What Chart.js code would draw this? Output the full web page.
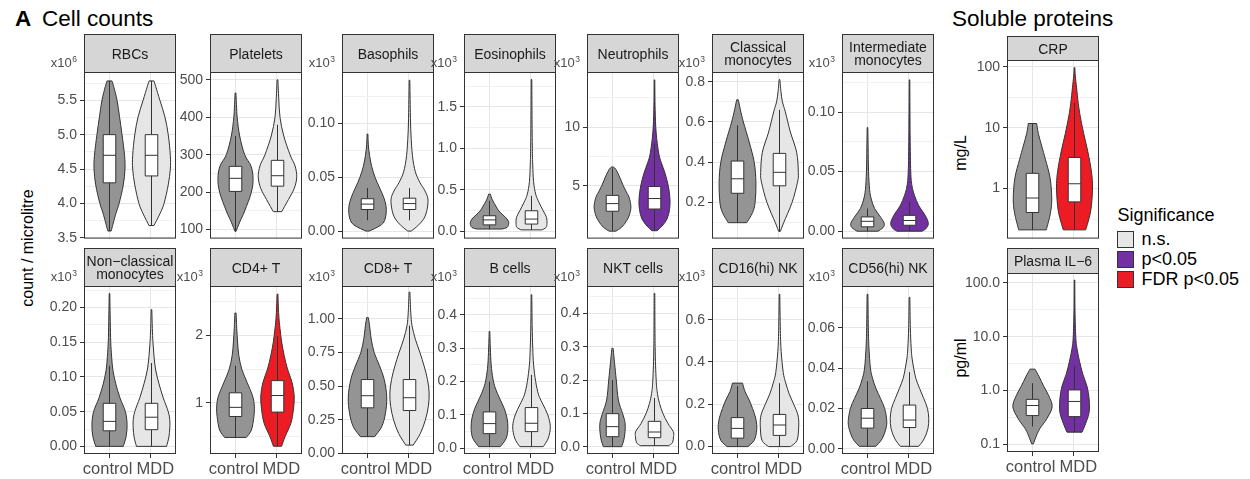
<!DOCTYPE html>
<html>
<head>
<meta charset="utf-8">
<script src="https://cdn.jsdelivr.net/npm/chart.js@4.4.1/dist/chart.umd.min.js"></script>
<style>
  html, body { margin: 0; padding: 0; background: #fff; }
  #fig { position: relative; width: 1250px; height: 479px; overflow: hidden; background: #fff;
         font-family: "Liberation Sans", Arial, Helvetica, sans-serif; }
  #fig canvas { position: absolute; }
  .txt { position: absolute; white-space: nowrap; line-height: 1; color: #000; }
  .vert { transform: translate(-50%, -50%) rotate(-90deg); }
  .key { position: absolute; width: 17px; height: 17px; box-sizing: border-box; border: 1px solid #333; }
</style>
</head>
<body>
<div id="fig">
  <div class="txt" style="left:15px;top:8px;font-size:22.5px;font-weight:bold;">A</div>
  <div class="txt" style="left:42px;top:8px;font-size:22.5px;">Cell counts</div>
  <div class="txt" style="left:952px;top:8px;font-size:22.5px;">Soluble proteins</div>
  <div class="txt vert" style="left:28px;top:248px;font-size:16px;">count / microlitre</div>
  <div class="txt vert" style="left:960.5px;top:153px;font-size:16px;">mg/L</div>
  <div class="txt vert" style="left:961px;top:357.5px;font-size:16px;">pg/ml</div>
  <div id="legend"></div>
</div>
<script>
// ---- data -------------------------------------------------------------
const categories = ['control', 'MDD'];

const panelTitles = [
  'RBCs', 'Platelets', 'Basophils', 'Eosinophils', 'Neutrophils',
  'Classical\nmonocytes', 'Intermediate\nmonocytes',
  'Non\u2212classical\nmonocytes', 'CD4+ T', 'CD8+ T', 'B cells', 'NKT cells',
  'CD16(hi) NK', 'CD56(hi) NK',
  'CRP', 'Plasma IL\u22126'
];

// power of ten printed above each y axis ('' = none)
const unitExponents = ['6', '', '3', '3', '3', '3', '3', '3', '3', '3', '3', '3', '3', '3', '', ''];

const significanceLevels = ['n.s.', 'p<0.05', 'FDR p<0.05'];
const mddSignificance = [
  'n.s.', 'n.s.', 'n.s.', 'n.s.', 'p<0.05', 'n.s.', 'p<0.05',
  'n.s.', 'FDR p<0.05', 'n.s.', 'n.s.', 'n.s.', 'n.s.', 'n.s.',
  'FDR p<0.05', 'p<0.05'
];

const yScaleKinds = [
  'linear', 'linear', 'linear', 'linear', 'linear', 'linear', 'linear',
  'linear', 'linear', 'linear', 'linear', 'linear', 'linear', 'linear',
  'logarithmic', 'logarithmic'
];

const yLimits = [
  [3.49, 5.91], [76, 521], [-0.007, 0.1476], [-0.085, 1.92], [0.53, 14.67],
  [0.021, 0.848], [-0.0062, 0.1336],
  [-0.011, 0.231], [0.245, 2.73], [-0.003, 1.245], [-0.017, 0.486], [-0.022, 0.482],
  [-0.035, 0.759], [-0.0025, 0.0806],
  [0.151, 129], [0.073, 151]
];

const tickLabels = [
  ['3.5', '4.0', '4.5', '5.0', '5.5'],
  ['100', '200', '300', '400', '500'],
  ['0.00', '0.05', '0.10'],
  ['0.0', '0.5', '1.0', '1.5'],
  ['5', '10'],
  ['0.2', '0.4', '0.6', '0.8'],
  ['0.00', '0.05', '0.10'],
  ['0.00', '0.05', '0.10', '0.15', '0.20'],
  ['1', '2'],
  ['0.00', '0.25', '0.50', '0.75', '1.00'],
  ['0.0', '0.1', '0.2', '0.3', '0.4'],
  ['0.0', '0.1', '0.2', '0.3', '0.4'],
  ['0.0', '0.2', '0.4', '0.6'],
  ['0.00', '0.02', '0.04', '0.06'],
  ['1', '10', '100'],
  ['0.1', '1.0', '10.0', '100.0']
];

// box statistics: [lower whisker, Q1, median, Q3, upper whisker]
const controlBox = [
  [3.6, 4.3, 4.7, 5.0, 5.78], [96, 202, 237, 269, 350], [0.010, 0.020, 0.025, 0.030, 0.040],
  [0.03, 0.08, 0.14, 0.19, 0.37], [1.2, 2.85, 3.5, 4.2, 6.5], [0.10, 0.246, 0.318, 0.406, 0.584],
  [0.0, 0.0037, 0.0083, 0.012, 0.019],
  [0.0, 0.0224, 0.036, 0.062, 0.116], [0.49, 0.80, 0.935, 1.15, 1.55], [0.126, 0.34, 0.43, 0.55, 0.78],
  [0.005, 0.044, 0.074, 0.109, 0.2], [0.0, 0.03, 0.06, 0.099, 0.2], [0.0, 0.04, 0.086, 0.137, 0.286],
  [0.0013, 0.0103, 0.0152, 0.020, 0.0335],
  [0.21, 0.405, 0.70, 1.78, 11.7], [0.216, 0.345, 0.53, 0.69, 1.37]
];
const mddBox = [
  [3.68, 4.4, 4.7, 5.0, 5.78], [148, 216, 244, 285, 380], [0.010, 0.020, 0.0255, 0.0305, 0.040],
  [0.02, 0.09, 0.15, 0.25, 0.43], [1.2, 3.04, 3.93, 4.95, 8.6], [0.057, 0.283, 0.35, 0.444, 0.66],
  [0.0, 0.005, 0.009, 0.0133, 0.025],
  [0.0, 0.024, 0.042, 0.062, 0.12], [0.36, 0.865, 1.11, 1.33, 1.99], [0.063, 0.32, 0.415, 0.55, 0.95],
  [0.005, 0.05, 0.075, 0.122, 0.22], [0.003, 0.027, 0.044, 0.076, 0.146], [0.0, 0.053, 0.102, 0.152, 0.3],
  [0.0013, 0.0106, 0.0143, 0.0217, 0.038],
  [0.21, 0.605, 1.2, 3.24, 25.6], [0.17, 0.33, 0.63, 1.03, 2.9]
];

// violin outlines: [value, half-width as a fraction of the category spacing]
const controlViolin = [
  [[3.6,0.04],[3.85,0.15],[4.0,0.23],[4.27,0.33],[4.5,0.37],[4.7,0.36],[5.0,0.30],[5.26,0.24],[5.5,0.18],[5.7,0.1],[5.78,0.06]],
  [[95,0.01],[120,0.1],[150,0.22],[200,0.38],[237,0.42],[270,0.37],[300,0.22],[350,0.1],[400,0.04],[430,0.025],[465,0.01]],
  [[0,0.04],[0.005,0.3],[0.01,0.41],[0.02,0.45],[0.03,0.40],[0.04,0.29],[0.05,0.18],[0.06,0.1],[0.07,0.05],[0.08,0.02],[0.09,0.01]],
  [[0.03,0.3],[0.05,0.42],[0.1,0.46],[0.15,0.42],[0.2,0.32],[0.25,0.22],[0.3,0.16],[0.38,0.07],[0.45,0.02]],
  [[1.16,0.08],[1.5,0.22],[2,0.33],[2.5,0.4],[3.2,0.44],[4,0.4],[4.5,0.33],[5,0.26],[5.5,0.2],[6,0.14],[6.4,0.08],[6.6,0.03]],
  [[0.1,0.22],[0.15,0.36],[0.2,0.42],[0.3,0.44],[0.4,0.4],[0.5,0.28],[0.6,0.14],[0.66,0.07],[0.71,0.02]],
  [[0,0.25],[0.003,0.37],[0.0065,0.40],[0.012,0.31],[0.019,0.17],[0.027,0.09],[0.035,0.05],[0.05,0.025],[0.07,0.015],[0.087,0.008]],
  [[0,0.33],[0.015,0.4],[0.032,0.42],[0.05,0.38],[0.07,0.25],[0.09,0.15],[0.11,0.08],[0.13,0.05],[0.15,0.03],[0.18,0.018],[0.22,0.008]],
  [[0.49,0.26],[0.6,0.38],[0.8,0.44],[0.95,0.45],[1.1,0.41],[1.3,0.28],[1.5,0.15],[1.7,0.08],[1.9,0.05],[2.1,0.03],[2.33,0.015]],
  [[0.126,0.17],[0.2,0.34],[0.3,0.43],[0.42,0.46],[0.55,0.4],[0.65,0.29],[0.75,0.16],[0.85,0.09],[0.95,0.05],[1.01,0.02]],
  [[0.005,0.26],[0.03,0.4],[0.06,0.44],[0.09,0.42],[0.12,0.35],[0.15,0.24],[0.18,0.14],[0.21,0.08],[0.25,0.04],[0.3,0.02],[0.35,0.008]],
  [[0,0.22],[0.02,0.27],[0.045,0.3],[0.072,0.3],[0.1,0.24],[0.14,0.14],[0.2,0.09],[0.25,0.05],[0.295,0.015]],
  [[0,0.25],[0.03,0.4],[0.08,0.46],[0.13,0.44],[0.18,0.36],[0.22,0.28],[0.26,0.18],[0.3,0.12]],
  [[0.0013,0.2],[0.005,0.35],[0.01,0.44],[0.014,0.46],[0.02,0.41],[0.025,0.31],[0.03,0.2],[0.035,0.12],[0.04,0.07],[0.05,0.035],[0.06,0.02],[0.0765,0.01]],
  [[0.21,0.33],[0.4,0.43],[0.7,0.46],[1.5,0.42],[3,0.31],[5,0.22],[8,0.14],[11.7,0.1]],
  [[0.103,0.02],[0.15,0.1],[0.2,0.18],[0.3,0.34],[0.5,0.47],[0.8,0.39],[1.2,0.27],[1.8,0.16],[2.5,0.06]]
];
const mddViolin = [
  [[3.68,0.06],[3.85,0.2],[4.0,0.3],[4.27,0.4],[4.5,0.45],[4.7,0.45],[5.0,0.4],[5.26,0.32],[5.5,0.2],[5.7,0.1],[5.78,0.06]],
  [[148,0.1],[180,0.26],[210,0.4],[240,0.46],[270,0.42],[300,0.3],[350,0.15],[400,0.06],[450,0.03],[500,0.01]],
  [[0,0.04],[0.005,0.2],[0.012,0.35],[0.02,0.42],[0.03,0.44],[0.038,0.36],[0.045,0.25],[0.055,0.14],[0.07,0.07],[0.09,0.035],[0.11,0.02],[0.14,0.008]],
  [[0.02,0.25],[0.05,0.35],[0.1,0.37],[0.17,0.36],[0.25,0.28],[0.35,0.18],[0.45,0.1],[0.6,0.05],[0.8,0.03],[1.0,0.02],[1.4,0.012],[1.83,0.006]],
  [[1.2,0.06],[1.6,0.18],[2.2,0.3],[3,0.36],[3.9,0.37],[5,0.33],[6.1,0.25],[7,0.16],[7.8,0.1],[9.5,0.04],[11.5,0.015],[14,0.005]],
  [[0.057,0.02],[0.1,0.1],[0.2,0.3],[0.3,0.43],[0.35,0.45],[0.45,0.41],[0.55,0.26],[0.65,0.14],[0.7,0.07],[0.75,0.035],[0.81,0.01]],
  [[0,0.3],[0.002,0.39],[0.0065,0.45],[0.013,0.38],[0.0216,0.22],[0.03,0.12],[0.038,0.06],[0.05,0.03],[0.08,0.015],[0.127,0.005]],
  [[0,0.36],[0.015,0.42],[0.035,0.44],[0.05,0.4],[0.07,0.28],[0.09,0.18],[0.11,0.1],[0.13,0.06],[0.15,0.035],[0.17,0.02],[0.197,0.008]],
  [[0.36,0.1],[0.5,0.18],[0.7,0.32],[0.9,0.38],[1.1,0.4],[1.3,0.35],[1.5,0.24],[1.7,0.16],[1.9,0.1],[2.1,0.06],[2.3,0.03],[2.61,0.01]],
  [[0.063,0.09],[0.15,0.26],[0.25,0.38],[0.35,0.45],[0.45,0.47],[0.55,0.43],[0.65,0.35],[0.75,0.25],[0.85,0.14],[0.95,0.06],[1.05,0.03],[1.2,0.01]],
  [[0.005,0.28],[0.03,0.4],[0.065,0.45],[0.1,0.39],[0.13,0.28],[0.16,0.17],[0.2,0.1],[0.25,0.05],[0.3,0.03],[0.37,0.015],[0.46,0.005]],
  [[0.003,0.34],[0.012,0.43],[0.03,0.455],[0.045,0.45],[0.07,0.32],[0.1,0.2],[0.13,0.12],[0.16,0.07],[0.2,0.04],[0.3,0.015],[0.46,0.005]],
  [[0,0.26],[0.03,0.42],[0.1,0.46],[0.15,0.44],[0.2,0.34],[0.25,0.23],[0.3,0.15],[0.35,0.09],[0.45,0.04],[0.55,0.02],[0.72,0.005]],
  [[0.0013,0.22],[0.005,0.35],[0.01,0.44],[0.015,0.46],[0.02,0.43],[0.025,0.34],[0.03,0.24],[0.035,0.15],[0.04,0.1],[0.045,0.06],[0.05,0.04],[0.06,0.02],[0.075,0.008]],
  [[0.21,0.27],[0.4,0.38],[0.7,0.42],[1.2,0.43],[2,0.4],[4,0.32],[8,0.22],[15,0.14],[25,0.09],[45,0.05],[70,0.02],[97,0.005]],
  [[0.17,0.18],[0.25,0.27],[0.4,0.35],[0.7,0.35],[1.2,0.3],[2,0.2],[3.5,0.12],[6,0.06],[10,0.03],[30,0.012],[112,0.005]]
];

// ---- styles -----------------------------------------------------------
const FONT = '"Liberation Sans", Arial, Helvetica, sans-serif';
const CONTROL_FILL = '#949494';
const LEVEL_FILL = { 'n.s.': '#E6E6E6', 'p<0.05': '#7230A0', 'FDR p<0.05': '#EC1C24' };
const INK = '#333333';
const AXIS_TEXT = '#4D4D4D';
const GRID_MAJOR = '#E6E6E6';
const GRID_MINOR = '#F1F1F1';
const STRIP_FILL = '#D6D6D6';
const X_LABEL_NUDGE = [-1.5, 4.5];   // small horizontal shift of the two category labels

// ---- layout -----------------------------------------------------------
const PANEL_W = 92;
const Y_AXIS_W = 56;
const columnLefts = [84, 210, 342, 464, 587, 712, 842];

function panelGeometry(i) {
  if (i < 7)  return { left: columnLefts[i], stripTop: 34, stripH: 38, bottom: 240, xLabels: false };
  if (i < 14) return { left: columnLefts[i - 7], stripTop: 248, stripH: 38, bottom: 454, xLabels: true };
  if (i === 14) return { left: 1007, stripTop: 36, stripH: 24, bottom: 240, xLabels: false };
  return { left: 1007, stripTop: 248, stripH: 25, bottom: 452, xLabels: true };
}

// major ticks from the label list plus half-step minor grid lines
function buildTickSet(i) {
  const isLog = yScaleKinds[i] === 'logarithmic';
  const [lo, hi] = yLimits[i];
  const majors = tickLabels[i].map(t => ({ value: parseFloat(t), text: t, minor: false }));
  const f = isLog ? v => Math.log10(v) : v => v;
  const inv = isLog ? u => Math.pow(10, u) : u => u;
  const first = f(majors[0].value);
  const last = f(majors[majors.length - 1].value);
  const step = f(majors[1].value) - first;
  const minors = [];
  for (let k = -1; first + (k + 0.5) * step <= last + step; k++) {
    const m = inv(first + (k + 0.5) * step);
    if (m > lo && m < hi) minors.push({ value: m, text: '', minor: true });
  }
  return majors.filter(t => t.value >= lo && t.value <= hi)
    .concat(minors)
    .sort((a, b) => a.value - b.value);
}

// ---- drawing helpers ---------------------------------------------------
function smoothSide(ctx, P) {
  for (let k = 0; k < P.length - 1; k++) {
    const p0 = P[k - 1] || P[k], p1 = P[k], p2 = P[k + 1], p3 = P[k + 2] || P[k + 1];
    let c1x = p1[0] + (p2[0] - p0[0]) / 6, c1y = p1[1] + (p2[1] - p0[1]) / 6;
    let c2x = p2[0] - (p3[0] - p1[0]) / 6, c2y = p2[1] - (p3[1] - p1[1]) / 6;
    const yMin = Math.min(p1[1], p2[1]), yMax = Math.max(p1[1], p2[1]);
    c1y = Math.min(yMax, Math.max(yMin, c1y));
    c2y = Math.min(yMax, Math.max(yMin, c2y));
    ctx.bezierCurveTo(c1x, c1y, c2x, c2y, p2[0], p2[1]);
  }
}

function drawViolin(ctx, cx, outline, fill) {
  const right = outline.map(p => [cx + p.w, p.y]);
  const left = outline.slice().reverse().map(p => [cx - p.w, p.y]);
  // keep the two halves from crossing the centre line
  right.forEach(p => { p[0] = Math.max(p[0], cx + 0.3); });
  left.forEach(p => { p[0] = Math.min(p[0], cx - 0.3); });
  ctx.beginPath();
  ctx.moveTo(left[left.length - 1][0], left[left.length - 1][1]);
  ctx.lineTo(right[0][0], right[0][1]);
  smoothSide(ctx, right);
  ctx.lineTo(left[0][0], left[0][1]);
  smoothSide(ctx, left);
  ctx.closePath();
  ctx.fillStyle = fill;
  ctx.fill();
  ctx.lineWidth = 1;
  ctx.strokeStyle = INK;
  ctx.lineJoin = 'round';
  ctx.stroke();
}

function drawBox(ctx, cx, halfW, px) {
  const [lo, q1, md, q3, hi] = px;
  ctx.strokeStyle = INK;
  ctx.lineWidth = 1;
  ctx.beginPath();
  ctx.moveTo(cx, lo); ctx.lineTo(cx, q1);
  ctx.moveTo(cx, q3); ctx.lineTo(cx, hi);
  ctx.stroke();
  ctx.fillStyle = '#FFFFFF';
  ctx.fillRect(cx - halfW, q3, 2 * halfW, q1 - q3);
  ctx.strokeRect(cx - halfW, q3, 2 * halfW, q1 - q3);
  ctx.beginPath();
  ctx.moveTo(cx - halfW, md); ctx.lineTo(cx + halfW, md);
  ctx.stroke();
}

// violins, boxes, strip header, panel frame, category labels and axis multiplier
const panelDecor = {
  id: 'panelDecor',
  beforeDatasetsDraw(chart, args, opts) {
    const { ctx, chartArea: a, scales: { x, y } } = chart;
    const unit = x.getPixelForValue(1) - x.getPixelForValue(0);
    ctx.save();
    ctx.beginPath();
    ctx.rect(a.left, a.top, a.right - a.left, a.bottom - a.top);
    ctx.clip();
    opts.groups.forEach((g, gi) => {
      const cx = Math.round(x.getPixelForValue(gi)) + 0.5;
      const outline = g.violin.map(([v, w]) => ({ y: y.getPixelForValue(v), w: w * unit }));
      drawViolin(ctx, cx, outline, g.fill);
    });
    opts.groups.forEach((g, gi) => {
      const cx = Math.round(x.getPixelForValue(gi)) + 0.5;
      drawBox(ctx, cx, 0.15 * unit, g.box.map(v => y.getPixelForValue(v)));
    });
    ctx.restore();
  },
  afterDraw(chart, args, opts) {
    const { ctx, chartArea: a, scales: { x } } = chart;
    ctx.save();
    ctx.lineWidth = 1;
    ctx.strokeStyle = INK;
    // panel frame
    ctx.strokeRect(a.left + 0.5, a.top + 0.5, a.right - a.left - 1, a.bottom - a.top - 1);
    // strip
    ctx.fillStyle = STRIP_FILL;
    ctx.fillRect(a.left + 0.5, 0.5, a.right - a.left - 1, a.top);
    ctx.strokeRect(a.left + 0.5, 0.5, a.right - a.left - 1, a.top);
    ctx.fillStyle = '#1A1A1A';
    ctx.font = '14px ' + FONT;
    ctx.textAlign = 'center';
    ctx.textBaseline = 'alphabetic';
    const lines = opts.title.split('\n');
    const mid = (a.left + a.right) / 2;
    const cy = a.top / 2 + 0.5;
    const gap = 12.5;
    lines.forEach((s, k) => {
      const off = (k - (lines.length - 1) / 2) * gap;
      ctx.fillText(s, mid, cy + off + 5);
    });
    // category labels under the bottom row
    if (opts.xLabels) {
      ctx.fillStyle = AXIS_TEXT;
      ctx.font = '16.5px ' + FONT;
      ctx.textAlign = 'center';
      categories.forEach((c, k) => {
        ctx.fillText(c, x.getPixelForValue(k) + X_LABEL_NUDGE[k], a.bottom + 19.5);
      });
    }
    // axis multiplier, e.g. x10^3
    if (opts.exponent) {
      ctx.fillStyle = AXIS_TEXT;
      ctx.textAlign = 'right';
      ctx.font = '8.5px ' + FONT;
      const xr = a.left - 7;
      const ew = ctx.measureText(opts.exponent).width;
      ctx.fillText(opts.exponent, xr, a.top - 10.5);
      ctx.font = '13px ' + FONT;
      ctx.fillText('x10', xr - ew - 0.5, a.top - 5.5);
    }
    ctx.restore();
  }
};

Chart.defaults.font.family = FONT;

function makePanel(i) {
  const g = panelGeometry(i);
  const xAxisH = g.xLabels ? 30 : 0;
  const padB = g.xLabels ? 2 : 10;
  const padR = 6;
  const dataTop = g.stripTop + g.stripH;
  const W = Y_AXIS_W + PANEL_W + padR;
  const H = g.stripH + (g.bottom - dataTop) + xAxisH + padB;

  const canvas = document.createElement('canvas');
  canvas.width = W; canvas.height = H;
  canvas.style.left = (g.left - Y_AXIS_W) + 'px';
  canvas.style.top = g.stripTop + 'px';
  canvas.style.width = W + 'px';
  canvas.style.height = H + 'px';
  document.getElementById('fig').appendChild(canvas);

  const tickSet = buildTickSet(i);
  const isMinor = c => c.tick && c.tick.minor;

  return new Chart(canvas, {
    type: 'scatter',
    data: { datasets: [] },
    plugins: [panelDecor],
    options: {
      responsive: false,
      animation: false,
      devicePixelRatio: 1,
      events: [],
      layout: { autoPadding: false, padding: { top: g.stripH, left: 0, right: padR, bottom: padB } },
      plugins: {
        legend: { display: false },
        tooltip: { enabled: false },
        panelDecor: {
          title: panelTitles[i],
          exponent: unitExponents[i],
          xLabels: g.xLabels,
          groups: [
            { fill: CONTROL_FILL, box: controlBox[i], violin: controlViolin[i] },
            { fill: LEVEL_FILL[mddSignificance[i]], box: mddBox[i], violin: mddViolin[i] }
          ]
        }
      },
      scales: {
        x: {
          type: 'linear',
          min: -0.6, max: 1.6,
          bounds: 'data',
          afterBuildTicks: s => { s.ticks = categories.map((c, k) => ({ value: k, text: c })); },
          afterFit: s => { s.height = xAxisH; },
          border: { display: false },
          grid: { color: GRID_MAJOR, lineWidth: 1, drawTicks: g.xLabels, tickLength: 4, tickColor: INK, tickWidth: 1 },
          ticks: { display: false }
        },
        y: {
          type: yScaleKinds[i],
          min: yLimits[i][0], max: yLimits[i][1],
          bounds: 'data',
          afterBuildTicks: s => { s.ticks = tickSet.map(t => Object.assign({}, t)); },
          afterFit: s => { s.width = Y_AXIS_W; },
          border: { display: false },
          grid: {
            color: c => isMinor(c) ? GRID_MINOR : GRID_MAJOR,
            lineWidth: 1,
            drawTicks: true, tickLength: 4,
            tickColor: c => isMinor(c) ? 'rgba(0,0,0,0)' : INK,
            tickWidth: 1
          },
          ticks: {
            autoSkip: false, padding: 3,
            color: AXIS_TEXT, font: { size: 14, family: FONT },
            callback: (v, k, t) => t[k].text
          }
        }
      }
    }
  });
}

for (let i = 0; i < panelTitles.length; i++) makePanel(i);

// significance legend
(function buildLegend() {
  const host = document.getElementById('legend');
  const title = document.createElement('div');
  title.className = 'txt';
  title.style.cssText = 'left:1117.5px;top:205.8px;font-size:18px;';
  title.textContent = 'Significance';
  host.appendChild(title);
  significanceLevels.forEach((lvl, k) => {
    const top = 230.5 + 20 * k;
    const key = document.createElement('div');
    key.className = 'key';
    key.style.left = '1116.5px';
    key.style.top = top + 'px';
    key.style.background = LEVEL_FILL[lvl];
    host.appendChild(key);
    const lab = document.createElement('div');
    lab.className = 'txt';
    lab.style.cssText = 'left:1141.5px;font-size:18px;top:' + (top + 8.5 + 6.3 - 15.2) + 'px;';
    lab.textContent = lvl;
    host.appendChild(lab);
  });
})();
</script>
</body>
</html>
